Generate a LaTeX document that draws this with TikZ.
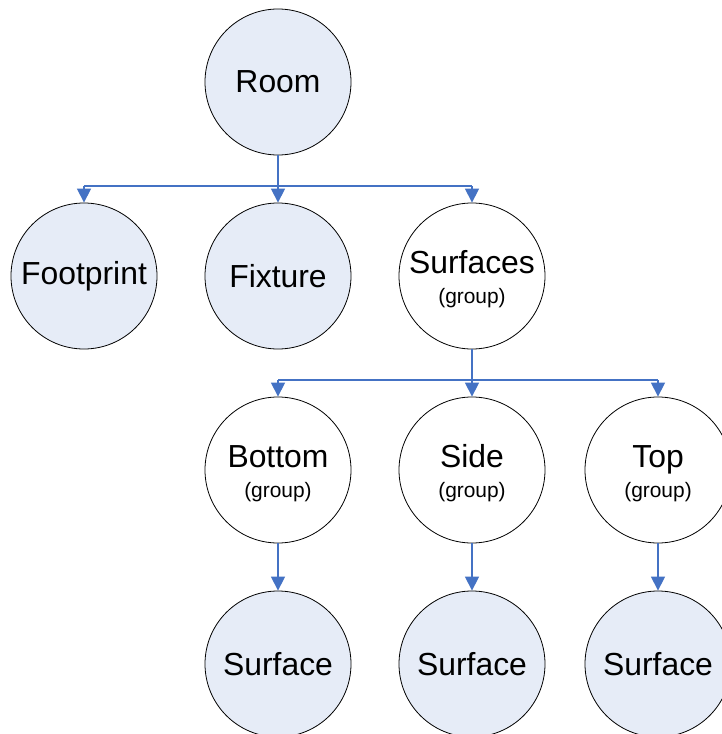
\documentclass[tikz,border=0pt]{standalone}
\usepackage{fontspec}
\setmainfont{Liberation Sans}
\usetikzlibrary{arrows.meta}
\definecolor{linkblue}{RGB}{68,114,196}
\definecolor{nodefill}{RGB}{230,236,247}
\newcommand{\grouptag}[1]{\rule{0pt}{30bp}#1\\{\fontsize{21}{30}\selectfont(group)}}
\begin{document}
\begin{tikzpicture}[x=1bp,y=-1bp,
  box/.style={circle,draw=black,line width=0.8bp,minimum size=146bp,inner sep=0pt,align=center,
    font=\fontsize{32}{30}\selectfont},
  leaf/.style={box,fill=nodefill},
  grp/.style={box,fill=white},
  link/.style={draw=linkblue,line width=1.3bp},
  arrow/.style={link,-{Triangle[width=14bp,length=14bp]},fill=linkblue}]
\useasboundingbox(0,0) rectangle (722,734);
% nodes
\node[leaf](room) at (278,82){Room};
\node[leaf](foot) at (84,276){Footprint};
\node[leaf](fix) at (278,276){Fixture};
\node[grp](surf) at (472,276){\grouptag{Surfaces}};
\node[grp](bot) at (278,470){\grouptag{Bottom}};
\node[grp](side) at (472,470){\grouptag{Side}};
\node[grp](top) at (658,470){\grouptag{Top}};
\node[leaf](sbot) at (278,664){Surface};
\node[leaf](sside) at (472,664){Surface};
\node[leaf](stop) at (658,664){Surface};
% links
\coordinate(bus1) at (0,186);
\coordinate(bus2) at (0,380);
\draw[link](room.south)--(room.south|-bus1);
\draw[link](foot.north|-bus1)--(surf.north|-bus1);
\foreach \n in {foot,fix,surf}\draw[arrow](\n.north|-bus1)--(\n.north);
\draw[link](surf.south)--(surf.south|-bus2);
\draw[link](bot.north|-bus2)--(top.north|-bus2);
\foreach \n in {bot,side,top}\draw[arrow](\n.north|-bus2)--(\n.north);
\draw[arrow](bot)--(sbot);
\draw[arrow](side)--(sside);
\draw[arrow](top)--(stop);
\end{tikzpicture}
\end{document}
